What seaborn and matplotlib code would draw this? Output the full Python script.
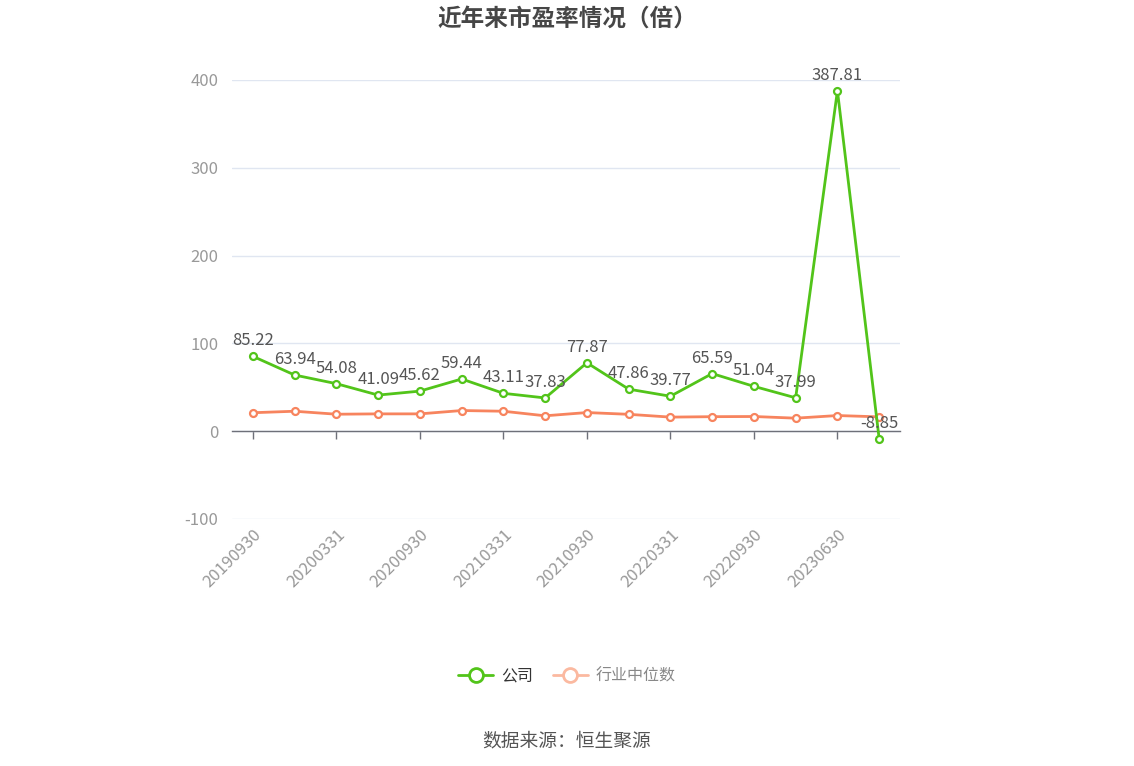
import matplotlib
matplotlib.use("Agg")
import matplotlib.pyplot as plt
from matplotlib.lines import Line2D
import seaborn as sns
import pandas as pd

# Data
dates = ["20190930", "20191231", "20200331", "20200630", "20200930", "20201231",
         "20210331", "20210630", "20210930", "20211231", "20220331", "20220630",
         "20220930", "20230331", "20230630", "20230930"]
company_pe = [85.22, 63.94, 54.08, 41.09, 45.62, 59.44, 43.11, 37.83, 77.87,
              47.86, 39.77, 65.59, 51.04, 37.99, 387.81, -8.85]
industry_pe = [21.0, 22.7, 19.3, 19.7, 19.7, 23.5, 22.7, 17.5, 21.2, 19.2,
               16.0, 16.5, 16.7, 14.8, 17.8, 16.3]

sns.set_theme(style="white")
plt.rcParams['font.family'] = ['Noto Sans CJK SC', 'DejaVu Sans']
plt.rcParams['axes.unicode_minus'] = False

green = "#52c41a"
orange = "#f7845e"

df = pd.DataFrame({"idx": range(len(dates)), "date": dates,
                   "company": company_pe, "industry": industry_pe})

fig = plt.figure(figsize=(11.34, 7.66), dpi=100)
ax = fig.add_axes([0.2046, 0.3225, 0.5891, 0.5731])

sns.lineplot(data=df, x="idx", y="industry", ax=ax, color=orange, linewidth=2,
             marker="o", markersize=5, markerfacecolor="white",
             markeredgecolor=orange, markeredgewidth=1.6, zorder=3)
sns.lineplot(data=df, x="idx", y="company", ax=ax, color=green, linewidth=2,
             marker="o", markersize=5, markerfacecolor="white",
             markeredgecolor=green, markeredgewidth=1.6, zorder=4)

# value labels for the company line
for i, v in zip(df["idx"], df["company"]):
    ax.annotate(f"{v:.2f}", (i, v), xytext=(0, 5), textcoords="offset points",
                ha="center", va="bottom", fontsize=12, color="#555555", zorder=5)

ax.set_xlim(-0.5, len(dates) - 0.5)
ax.set_ylim(-100, 400)
ax.set_yticks([-100, 0, 100, 200, 300, 400])
ax.yaxis.grid(True, color="#e0e6f1", linewidth=1)
ax.set_xlabel("")
ax.set_ylabel("")
ax.tick_params(axis="y", length=0, labelsize=12, labelcolor="#999999", pad=10)
for s in ["top", "right", "left"]:
    ax.spines[s].set_visible(False)

# axis line at zero with tick marks, labels at the bottom
ax.spines["bottom"].set_position(("data", 0))
ax.spines["bottom"].set_color("#6e7079")
ax.spines["bottom"].set_linewidth(1)
ax.set_xticks(df["idx"][::2])
ax.tick_params(axis="x", length=6, width=1, color="#6e7079", direction="out",
               labelbottom=False, bottom=True)

sec = ax.secondary_xaxis("bottom")
sec.set_xticks(df["idx"][::2], labels=df["date"][::2])
sec.tick_params(axis="x", length=0, labelsize=12, labelcolor="#999999", pad=5)
for lab in sec.get_xticklabels():
    lab.set_rotation(45)
    lab.set_ha("right")
    lab.set_rotation_mode("anchor")
sec.spines["bottom"].set_visible(False)

fig.text(0.5, 0.976, "近年来市盈率情况（倍）", ha="center", va="center",
         fontsize=17, fontweight="bold", color="#464646")

handles = [
    Line2D([0], [0], color=green, linewidth=2, marker="o", markersize=10,
           markerfacecolor="white", markeredgecolor=green, markeredgewidth=2),
    Line2D([0], [0], color="#fbb9a0", linewidth=2, marker="o", markersize=10,
           markerfacecolor="white", markeredgecolor="#fbb9a0", markeredgewidth=2),
]
leg = fig.legend(handles, ["公司", "行业中位数"], loc="center",
                 bbox_to_anchor=(0.5, 0.1175), ncol=2, frameon=False,
                 fontsize=11.5, handlelength=2.2, columnspacing=1.2,
                 handletextpad=0.5)
leg.get_texts()[0].set_color("#333333")
leg.get_texts()[1].set_color("#888888")

fig.text(0.5, 0.033, "数据来源：恒生聚源", ha="center", va="center",
         fontsize=13.5, color="#555555")

fig.savefig("out.png", dpi=100)
